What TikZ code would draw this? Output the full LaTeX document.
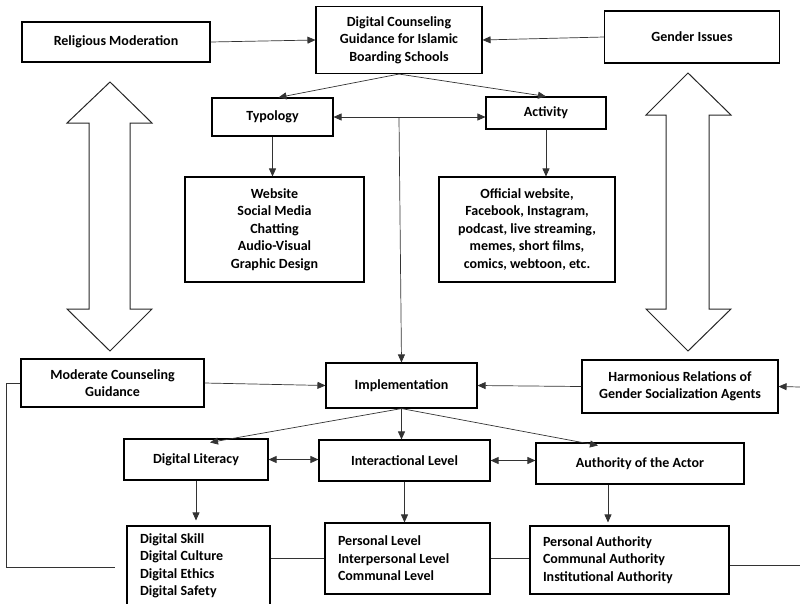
\documentclass[tikz,border=0pt]{standalone}
\usepackage{fontspec}
\setmainfont{Carlito}
\usepackage{xcolor}
\usepackage{tikz}
\usetikzlibrary{arrows.meta}

\begin{document}
\begin{tikzpicture}[x=1pt, y=-1pt,
        box/.style={draw, line width=1.1pt, align=center, inner sep=2pt,
            font=\bfseries\fontsize{14}{17.5}\selectfont},
        list/.style={box, align=flush left, inner xsep=13pt},
        line/.style={draw=black!80, line width=0.7pt},
        arr/.style={line, -{Triangle[length=8pt, width=7pt]}},
        dbl/.style={line, {Triangle[length=8pt, width=7pt]}-{Triangle[length=8pt, width=7pt]}},
        hollow/.style={draw=black!85, line width=1pt, line join=miter}]
    \useasboundingbox (0, 0) rectangle (800, 603);

    \node (rm) at (116, 42) [box, minimum width=188, minimum height=40] {Religious Moderation};
    \node (dc) at (399, 40) [box, minimum width=166, minimum height=67] {Digital Counseling\\Guidance for Islamic\\Boarding Schools};
    \node (gi) at (692, 37) [box, minimum width=175, minimum height=52] {Gender Issues};
    \node (ty) at (272.5, 117) [box, minimum width=121, minimum height=38] {Typology};
    \node (ac) at (546, 113) [box, minimum width=120, minimum height=32] {Activity};
    \node (ws) at (274.5, 229.5) [box, minimum width=179, minimum height=105] {Website\\Social Media\\Chatting\\Audio-Visual\\Graphic Design};
    \node (ow) at (527, 229.5) [box, minimum width=176, minimum height=105] {Official website,\\Facebook, Instagram,\\podcast, live streaming,\\memes, short films,\\comics, webtoon, etc.};
    \node (mc) at (112.5, 383) [box, minimum width=183, minimum height=48] {Moderate Counseling\\Guidance};
    \node (im) at (401.5, 385.5) [box, minimum width=151, minimum height=45] {Implementation};
    \node (hr) at (680, 386.5) [box, minimum width=196, minimum height=53] {Harmonious Relations of\\Gender Socialization Agents};
    \node (dl) at (196, 459.5) [box, minimum width=144, minimum height=41] {Digital Literacy};
    \node (il) at (404.5, 460.5) [box, minimum width=171, minimum height=41] {Interactional Level};
    \node (aa) at (640, 463.5) [box, minimum width=208, minimum height=41] {Authority of the Actor};
    \node (ds) at (198.5, 566) [list, text width=117, minimum height=80] {Digital Skill\\Digital Culture\\Digital Ethics\\Digital Safety};
    \node (pl) at (407.5, 558.5) [list, text width=139, minimum height=71] {Personal Level\\Interpersonal Level\\Communal Level};
    \node (pa) at (629.5, 560) [list, text width=173, minimum height=68] {Personal Authority\\Communal Authority\\Institutional Authority};

    \coordinate (mid) at (399, 118);
    \coordinate (re) at (800, 387);
    \coordinate (pe) at (800, 565);
    \coordinate (lc) at (115, 567);

    % hollow double arrows
    \draw [hollow] (110, 82) -- (152, 123) -- (130, 123) -- (130, 309) -- (152, 309) -- (110, 351)
        -- (67, 309) -- (89, 309) -- (89, 123) -- (67, 123) -- cycle;
    \draw [hollow] (688, 73) -- (731, 115) -- (709, 115) -- (709, 309) -- (731, 309) -- (688, 351)
        -- (646, 309) -- (666, 309) -- (666, 115) -- (646, 115) -- cycle;

    \draw [arr] (rm.east) -- (dc.west);
    \draw [arr] (gi.west) -- (dc.east);
    \draw [arr] (dc.south) -- ([xshift=6]ty.north);
    \draw [arr] (dc.south) -- (ac.north);
    \draw [dbl] (ty.east) -- (ty.east -| ac.west);
    \draw [arr] (mid) -- (im.north);
    \draw [arr] (ty.south) -- (ty.south |- ws.north);
    \draw [arr] (ac.south) -- (ac.south |- ow.north);

    \draw [arr] (mc.east) -- (im.west);
    \draw [arr] (hr.west) -- (im.east);
    \draw [arr] (re) -- (hr.east);
    \draw [arr] (im.south) -- ([xshift=14, yshift=-4]dl.north);
    \draw [arr] (im.south) -- (im.south |- il.north);
    \draw [arr] (im.south) -- ([xshift=-42, yshift=-3]aa.north);
    \draw [dbl] (dl.east) -- (dl.east -| il.west);
    \draw [dbl] (il.east) -- (il.east -| aa.west);

    \draw [arr, shorten >=5pt] (dl.south) -- (dl.south |- ds.north);
    \draw [arr] (il.south) -- (il.south |- pl.north);
    \draw [arr, shorten >=3pt] ([xshift=-32]aa.south) -- ([xshift=-32]aa.south |- pa.north);

    \draw [line] (pl.west -| ds.east) -- (pl.west);
    \draw [line] (pl.east) -- (pl.east -| pa.west);
    \draw [line] (pe -| pa.east) -- (pe);
    \draw [line] (mc.west) -- ++(-14, 0) |- (lc);
\end{tikzpicture}
\end{document}
